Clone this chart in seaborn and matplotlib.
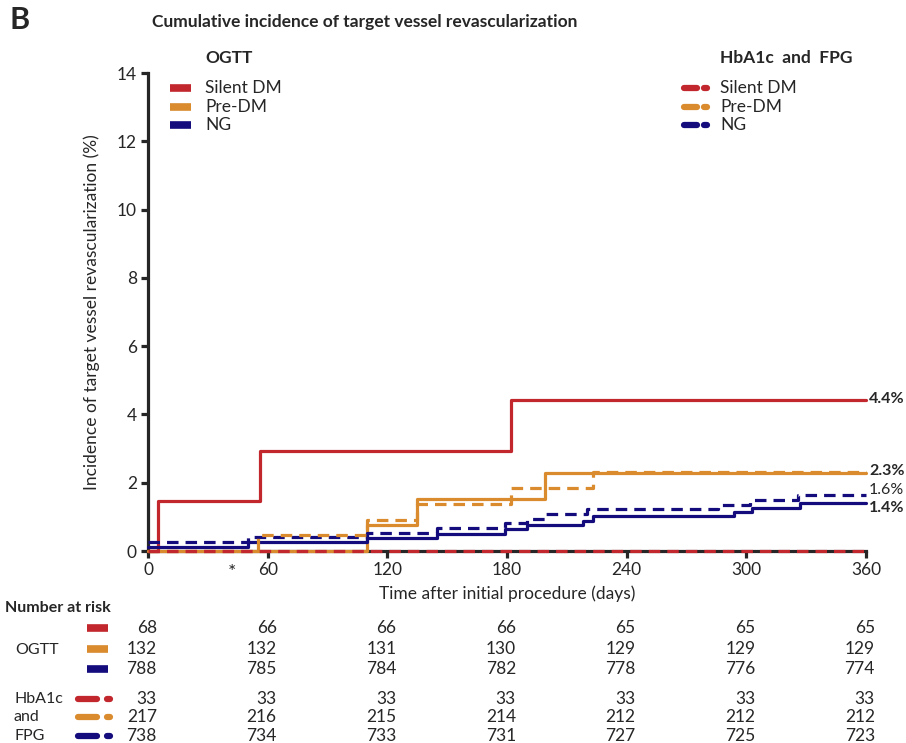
import numpy as np
import pandas as pd
import seaborn as sns
import matplotlib.pyplot as plt
from matplotlib.lines import Line2D

# =============================================================================
# data (days, cumulative incidence %)

groups = ["Silent DM", "Pre-DM", "NG"]
colors = ["#C1272D", "#D98B2E", "#140C7C"]

ogtt_silent_days = [0, 5, 56, 182, 360]
ogtt_silent_inc = [0, 1.47, 2.94, 4.41, 4.41]
ogtt_pre_days = [0, 110, 135, 199, 360]
ogtt_pre_inc = [0, 0.76, 1.52, 2.27, 2.27]
ogtt_ng_days = [0, 50, 110, 145, 179, 190, 218, 223, 294, 303, 327, 360]
ogtt_ng_inc = [0.13, 0.25, 0.38, 0.51, 0.63, 0.76, 0.89, 1.02, 1.14, 1.27, 1.40, 1.40]

hb_silent_days = [0, 360]
hb_silent_inc = [0, 0]
hb_pre_days = [0, 55, 110, 135, 182, 223, 360]
hb_pre_inc = [0, 0.46, 0.92, 1.38, 1.84, 2.30, 2.30]
hb_ng_days = [0, 50, 110, 145, 179, 190, 199, 220, 286, 302, 326, 360]
hb_ng_inc = [0.27, 0.41, 0.54, 0.68, 0.81, 0.95, 1.08, 1.22, 1.36, 1.49, 1.63, 1.63]

end_labels = ["4.4%", "2.3%", "1.6%", "1.4%"]

risk_days = [0, 60, 120, 180, 240, 300, 360]
risk_ogtt_silent = [68, 66, 66, 66, 65, 65, 65]
risk_ogtt_pre = [132, 132, 131, 130, 129, 129, 129]
risk_ogtt_ng = [788, 785, 784, 782, 778, 776, 774]
risk_hb_silent = [33, 33, 33, 33, 33, 33, 33]
risk_hb_pre = [217, 216, 215, 214, 212, 212, 212]
risk_hb_ng = [738, 734, 733, 731, 727, 725, 723]

# =============================================================================

series = [
    ("OGTT", "Silent DM", ogtt_silent_days, ogtt_silent_inc),
    ("OGTT", "Pre-DM", ogtt_pre_days, ogtt_pre_inc),
    ("OGTT", "NG", ogtt_ng_days, ogtt_ng_inc),
    ("HbA1c", "Silent DM", hb_silent_days, hb_silent_inc),
    ("HbA1c", "Pre-DM", hb_pre_days, hb_pre_inc),
    ("HbA1c", "NG", hb_ng_days, hb_ng_inc),
]
frames = []
for test, grp, d, v in series:
    frames.append(pd.DataFrame({"test": test, "group": grp, "day": d, "inc": v}))
df = pd.concat(frames, ignore_index=True)

sns.set_style("ticks")
plt.rcParams["font.family"] = ["Lato", "DejaVu Sans"]

W, H = 906, 743
fig = plt.figure(figsize=(W / 100, H / 100), dpi=100)
ax = fig.add_axes([148 / W, 1 - 551 / H, 718 / W, 478 / H])

cmap = dict(zip(groups, colors))
dash = (0, (3.6, 2.2))
for test, grp, d, v in series:
    sub = df[(df.test == test) & (df.group == grp)]
    z = 3
    if test == "HbA1c" and grp == "Silent DM":
        z = 5
    elif test == "HbA1c" and grp == "Pre-DM":
        z = 4
    sns.lineplot(data=sub, x="day", y="inc", ax=ax, color=cmap[grp],
                 drawstyle="steps-post", estimator=None, sort=False,
                 lw=2.3, linestyle="-" if test == "OGTT" else dash,
                 clip_on=False, zorder=z, legend=False)

ax.set_xlim(0, 360)
ax.set_ylim(0, 14)
ax.set_xticks(np.arange(0, 361, 60))
ax.set_yticks(np.arange(0, 15, 2))
sns.despine(ax=ax)
for s in ["left", "bottom"]:
    ax.spines[s].set_linewidth(2.3)
ax.tick_params(direction="out", length=5, width=2.3, labelsize=12.5, pad=3)
ax.set_xlabel("Time after initial procedure (days)", fontsize=12.5)
ax.set_ylabel("Incidence of target vessel revascularization (%)", fontsize=12.5)
ax.xaxis.set_label_coords(0.5, -0.072)
ax.yaxis.set_label_coords(-0.067, 0.5)

# asterisk below axis
ax.annotate("*", xy=(42, 0), xytext=(0, -9), textcoords="offset points",
            ha="center", va="top", fontsize=14, annotation_clip=False)

# end labels
end_y = [4.45, 2.35, 1.8, 1.25]
end_w = ["bold", "bold", "normal", "bold"]
for lab, yy, w in zip(end_labels, end_y, end_w):
    ax.text(361.5, yy, lab, ha="left", va="center", fontsize=11.5, fontweight=w, clip_on=False)

# titles
fig.text(10 / W, 1 - 20 / H, "B", fontsize=22, fontweight="bold", ha="left", va="center")
fig.text(152 / W, 1 - 22 / H, "Cumulative incidence of target vessel revascularization",
         fontsize=12.5, fontweight="bold", ha="left", va="center")


def px(x, y):
    return x / W, 1 - y / H


def solid_swatch(x0, x1, y, c, lw=5.5):
    (a, b), (c2, d2) = px(x0, y), px(x1, y)
    fig.add_artist(Line2D([a, c2], [b, d2], color=c, lw=lw, solid_capstyle="butt",
                          transform=fig.transFigure))


def dashdot_swatch(x0, x1, y, c, lw=4.5):
    xa, yb = px(x0, y)
    xm, _ = px(x0 + (x1 - x0) * 0.58, y)
    xd, _ = px(x1 - 3, y)
    xe, _ = px(x1, y)
    fig.add_artist(Line2D([xa, xm], [yb, yb], color=c, lw=lw, solid_capstyle="round",
                          transform=fig.transFigure))
    fig.add_artist(Line2D([xd, xe], [yb, yb], color=c, lw=lw, solid_capstyle="round",
                          transform=fig.transFigure))


# legends
fig.text(*px(205, 58), "OGTT", fontsize=12.5, fontweight="bold", ha="left", va="center")
fig.text(*px(720, 58), "HbA1c  and  FPG", fontsize=12.5, fontweight="bold", ha="left", va="center")
for i, grp in enumerate(groups):
    yy = 88 + i * 18.5
    solid_swatch(170, 191, yy, cmap[grp])
    fig.text(*px(205, yy), grp, fontsize=12.5, ha="left", va="center")
    dashdot_swatch(684, 707, yy, cmap[grp])
    fig.text(*px(720, yy), grp, fontsize=12.5, ha="left", va="center")

# number at risk table
fig.text(*px(5, 608), "Number at risk", fontsize=11.5, fontweight="bold", ha="left", va="center")
fig.text(*px(15, 650), "OGTT", fontsize=11.5, ha="left", va="center")
fig.text(*px(14, 699), "HbA1c", fontsize=11.5, ha="left", va="center")
fig.text(*px(14, 717), "and", fontsize=11.5, ha="left", va="center")
fig.text(*px(14, 736), "FPG", fontsize=11.5, ha="left", va="center")

blend = plt.matplotlib.transforms.blended_transform_factory(ax.transData, fig.transFigure)
rows = [
    (risk_ogtt_silent, 628, "solid", colors[0]),
    (risk_ogtt_pre, 649, "solid", colors[1]),
    (risk_ogtt_ng, 669, "solid", colors[2]),
    (risk_hb_silent, 699, "dd", colors[0]),
    (risk_hb_pre, 717, "dd", colors[1]),
    (risk_hb_ng, 736, "dd", colors[2]),
]
for vals, yy, kind, c in rows:
    if kind == "solid":
        solid_swatch(87, 108, yy, c)
    else:
        dashdot_swatch(78, 110, yy, c)
    for d, n in zip(risk_days, vals):
        ax.text(d + 4.5, 1 - yy / H, str(n), transform=blend, ha="right", va="center",
                fontsize=12.5, clip_on=False)

fig.savefig("out.png", dpi=100)
